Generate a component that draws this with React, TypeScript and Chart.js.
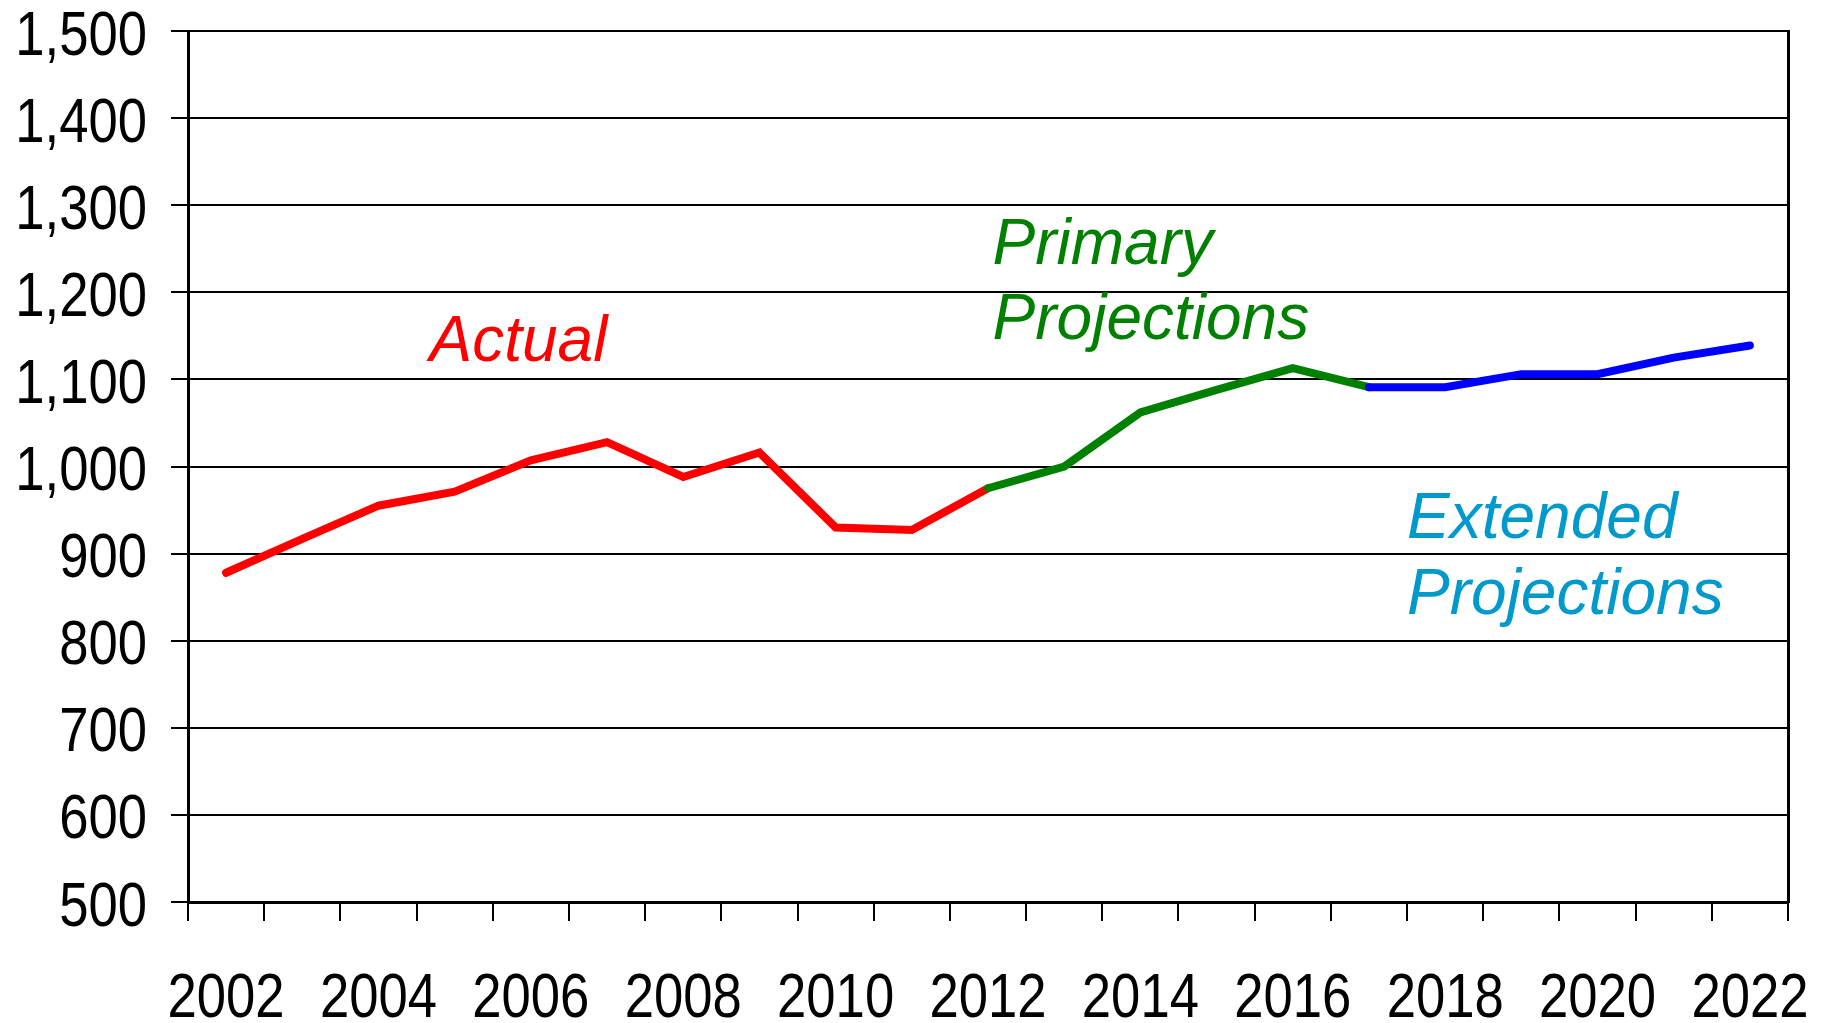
import React, { useEffect, useRef } from "react";
import { Chart, registerables } from "chart.js";

Chart.register(...registerables);

const years: string[] = [
  "2002", "2003", "2004", "2005", "2006", "2007", "2008", "2009", "2010", "2011",
  "2012", "2013", "2014", "2015", "2016", "2017", "2018", "2019", "2020", "2021", "2022",
];

// Actual 2002-2012
const actualValues: (number | null)[] = [
  878, 917, 955, 971, 1007, 1028, 988, 1016, 930, 927, 975,
  null, null, null, null, null, null, null, null, null, null,
];
// Primary projections 2012-2017
const primaryValues: (number | null)[] = [
  null, null, null, null, null, null, null, null, null, null,
  975, 1000, 1062, 1088, 1113, 1091,
  null, null, null, null, null,
];
// Extended projections 2017-2022
const extendedValues: (number | null)[] = [
  null, null, null, null, null, null, null, null, null, null,
  null, null, null, null, null,
  1091, 1091, 1106, 1106, 1125, 1139,
];

const yTicks: number[] = [500, 600, 700, 800, 900, 1000, 1100, 1200, 1300, 1400, 1500];

// annotation labels
const annotationTexts: string[] = ["Actual", "Primary", "Projections", "Extended", "Projections"];
const annotationX: number[] = [2.67, 10.06, 10.06, 15.5, 15.5];
const annotationY: number[] = [1121, 1232, 1146, 918, 831];
const annotationColors: string[] = ["#FF0000", "#008000", "#008000", "#0099CC", "#0099CC"];

const tickFontFamily = "'Liberation Sans', Arial, sans-serif";
const tickFontSize = 63;
const narrowFactor = 0.835;

const annotationPlugin = {
  id: "textAnnotations",
  afterDatasetsDraw(chart: any) {
    const { ctx, scales } = chart;
    const xs = scales.x;
    const ys = scales.y;
    ctx.save();
    ctx.font = "italic 64px 'Liberation Sans', Arial, sans-serif";
    ctx.textAlign = "left";
    ctx.textBaseline = "alphabetic";
    annotationTexts.forEach((t, i) => {
      const x0 = xs.getPixelForValue(0);
      const x1 = xs.getPixelForValue(1);
      const px = x0 + (x1 - x0) * annotationX[i];
      const py = ys.getPixelForValue(annotationY[i]);
      ctx.fillStyle = annotationColors[i];
      ctx.fillText(t, px, py);
    });
    ctx.restore();
  },
};

// Draws the tick labels in a narrow (horizontally condensed) face
const narrowTicksPlugin = {
  id: "narrowTicks",
  afterDraw(chart: any) {
    const { ctx, scales } = chart;
    const xs = scales.x;
    const ys = scales.y;
    const capHalf = tickFontSize * 0.716 / 2;
    ctx.save();
    ctx.fillStyle = "#000000";
    ctx.font = `${tickFontSize}px ${tickFontFamily}`;
    ctx.textBaseline = "alphabetic";
    // y axis
    const yTl = ys.options.grid.tickLength;
    const yPad = ys.options.ticks.padding;
    ys.ticks.forEach((tk: any, i: number) => {
      const label = String(tk.label ?? "");
      if (!label) return;
      const py = ys.getPixelForTick(i);
      ctx.save();
      ctx.translate(ys.right - yTl - yPad, py + capHalf + 1);
      ctx.scale(narrowFactor, 1);
      ctx.textAlign = "right";
      ctx.fillText(label, 0, 0);
      ctx.restore();
    });
    // x axis
    const xTl = xs.options.grid.tickLength;
    const xPad = xs.options.ticks.padding;
    xs.ticks.forEach((tk: any, i: number) => {
      const label = String(tk.label ?? "");
      if (!label) return;
      const px = xs.getPixelForTick(i);
      ctx.save();
      ctx.translate(px, xs.top + xTl + xPad + tickFontSize * 0.716);
      ctx.scale(narrowFactor, 1);
      ctx.textAlign = "center";
      ctx.fillText(label, 0, 0);
      ctx.restore();
    });
    ctx.restore();
  },
};

export default function App() {
  const ref = useRef<HTMLCanvasElement | null>(null);

  useEffect(() => {
    if (!ref.current) return;
    const lineCommon = {
      borderWidth: 8,
      pointRadius: 0,
      pointHoverRadius: 0,
      borderCapStyle: "round",
      borderJoinStyle: "miter",
      tension: 0,
    };
    const chart = new Chart(ref.current, {
      type: "line",
      data: {
        labels: years,
        datasets: [
          {
            ...lineCommon,
            label: "Extended Projections",
            data: extendedValues,
            borderColor: "#0000FF",
            backgroundColor: "#0000FF",
            order: 0,
          },
          {
            ...lineCommon,
            label: "Primary Projections",
            data: primaryValues,
            borderColor: "#008000",
            backgroundColor: "#008000",
            order: 1,
          },
          {
            ...lineCommon,
            label: "Actual",
            data: actualValues,
            borderColor: "#FF0000",
            backgroundColor: "#FF0000",
            order: 2,
          },
        ],
      },
      options: {
        animation: false,
        responsive: false,
        maintainAspectRatio: false,
        layout: { padding: { top: 31, right: 43, left: 0, bottom: 0 } },
        plugins: {
          legend: { display: false },
          tooltip: { enabled: false },
          title: { display: false },
        },
        scales: {
          x: {
            type: "category",
            offset: true,
            grid: {
              offset: true,
              drawOnChartArea: false,
              drawTicks: true,
              tickLength: 19,
              color: "#000000",
              lineWidth: 2,
            },
            border: { display: true, color: "#000000", width: 3 },
            ticks: {
              autoSkip: false,
              maxRotation: 0,
              minRotation: 0,
              padding: 51,
              color: "rgba(0,0,0,0)",
              font: { family: tickFontFamily, size: tickFontSize },
              callback: (_v: any, idx: number) => (idx % 2 === 0 ? years[idx] : ""),
            },
            afterFit: (scale: any) => {
              scale.height = 121;
              scale.paddingLeft = 0;
              scale.paddingRight = 0;
            },
          },
          y: {
            type: "linear",
            min: 500,
            max: 1500,
            afterBuildTicks: (scale: any) => {
              scale.ticks = yTicks.map((v) => ({ value: v }));
            },
            grid: {
              drawOnChartArea: true,
              drawTicks: true,
              tickLength: 17,
              color: "#000000",
              lineWidth: 2,
            },
            border: { display: true, color: "#000000", width: 3 },
            ticks: {
              padding: 24,
              color: "rgba(0,0,0,0)",
              font: { family: tickFontFamily, size: tickFontSize },
              callback: (v: any) => Number(v).toLocaleString("en-US"),
            },
            afterFit: (scale: any) => {
              scale.width = 188;
              scale.paddingTop = 0;
              scale.paddingBottom = 0;
            },
          },
          y2: {
            type: "linear",
            position: "right",
            min: 500,
            max: 1500,
            grid: { display: false, drawOnChartArea: false },
            ticks: { display: false },
            border: { display: true, color: "#000000", width: 3 },
            afterFit: (scale: any) => {
              scale.width = 0;
              scale.paddingTop = 0;
              scale.paddingBottom = 0;
            },
          },
        },
      },
      plugins: [annotationPlugin, narrowTicksPlugin],
    } as any);
    return () => chart.destroy();
  }, []);

  return (
    <div style={{ position: "absolute", left: 0, top: 0, width: 1831, height: 1023, background: "#ffffff" }}>
      <canvas ref={ref} width={1831} height={1023} style={{ display: "block", width: 1831, height: 1023 }} />
    </div>
  );
}
